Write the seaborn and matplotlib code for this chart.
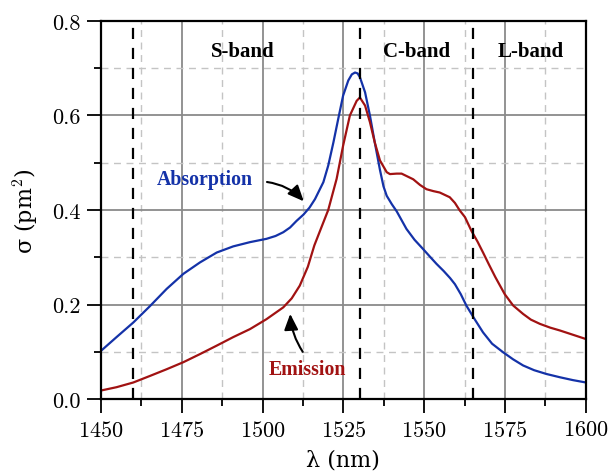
import numpy as np
import pandas as pd
import matplotlib
matplotlib.use("Agg")
import matplotlib.pyplot as plt
from matplotlib.ticker import MultipleLocator, FormatStrFormatter
import seaborn as sns

# Absorption cross-section (pm^2)
abs_wl = [1450, 1454.8, 1460, 1465.2, 1470.3, 1475.5, 1480.6, 1485.8, 1490.9, 1496.1, 1501.2,
          1504, 1506.4, 1508.5, 1510.5, 1512.6, 1514.5, 1516.2, 1518.8, 1520.3, 1521.9, 1523.4,
          1524.9, 1526.5, 1527.6, 1528.6, 1529.4, 1530.1, 1531.7, 1533.2, 1534.7, 1536.3,
          1537.4, 1538.4, 1540, 1541.5, 1544.5, 1547, 1549.7, 1551.8, 1553.8, 1556, 1558,
          1559.5, 1561.3, 1563.1, 1565.5, 1568.2, 1571, 1574.4, 1577.5, 1580.6, 1584, 1587.8,
          1592, 1596, 1600]
abs_val = [0.102, 0.131, 0.162, 0.197, 0.233, 0.265, 0.289, 0.310, 0.323, 0.332, 0.339,
           0.345, 0.353, 0.363, 0.377, 0.390, 0.405, 0.423, 0.459, 0.494, 0.543, 0.593,
           0.642, 0.674, 0.687, 0.691, 0.689, 0.681, 0.649, 0.600, 0.543, 0.485,
           0.450, 0.430, 0.412, 0.397, 0.360, 0.337, 0.317, 0.301, 0.286, 0.271, 0.256,
           0.243, 0.222, 0.197, 0.170, 0.141, 0.117, 0.099, 0.084, 0.071, 0.061, 0.053,
           0.046, 0.040, 0.035]

# Emission cross-section (pm^2)
em_wl = [1450, 1454.8, 1460, 1465.2, 1470.3, 1475.5, 1480.6, 1485.8, 1490.9, 1496.1, 1501.2,
         1506.4, 1509, 1511.5, 1514, 1516, 1518, 1520.3, 1522.9, 1524.9, 1527.0, 1529.1,
         1530.1, 1531.7, 1533.2, 1534.7, 1536.3, 1538.4, 1539.4, 1541.5, 1543, 1544.5,
         1546.6, 1548.7, 1550.7, 1552.8, 1554.8, 1557.9, 1559.5, 1561.0, 1562.6, 1564.6,
         1566.5, 1568.2, 1570, 1572, 1574.9, 1577.5, 1580.6, 1583, 1585.8, 1589, 1592,
         1596, 1600]
em_val = [0.018, 0.025, 0.035, 0.049, 0.063, 0.078, 0.095, 0.113, 0.131, 0.148, 0.169,
          0.194, 0.213, 0.240, 0.280, 0.325, 0.360, 0.400, 0.466, 0.536, 0.600, 0.631,
          0.638, 0.621, 0.586, 0.543, 0.505, 0.480, 0.476, 0.477, 0.477, 0.472,
          0.465, 0.453, 0.444, 0.440, 0.437, 0.427, 0.415, 0.399, 0.385, 0.356,
          0.333, 0.310, 0.285, 0.258, 0.222, 0.198, 0.180, 0.168, 0.159, 0.151, 0.145,
          0.136, 0.127]

band_edges = [1460, 1530, 1565]
band_names = ["S-band", "C-band", "L-band"]
band_label_x = [1494, 1547.7, 1583]

blue = "#1432a8"
red = "#a11212"

df = pd.concat([
    pd.DataFrame({"wl": abs_wl, "sigma": abs_val, "kind": "Absorption"}),
    pd.DataFrame({"wl": em_wl, "sigma": em_val, "kind": "Emission"}),
])

sns.set_theme(style="white")
plt.rcParams["font.family"] = ["cmr10", "DejaVu Serif"]
plt.rcParams["mathtext.fontset"] = "cm"
plt.rcParams["axes.formatter.use_mathtext"] = True
for k in ["text.color", "axes.labelcolor", "xtick.color", "ytick.color"]:
    plt.rcParams[k] = "black"

fig = plt.figure(figsize=(6.16, 4.77), dpi=100)
ax = fig.add_axes([0.164, 0.1614, 0.787, 0.7925])

sns.lineplot(data=df, x="wl", y="sigma", hue="kind", palette={"Absorption": blue, "Emission": red},
             ax=ax, legend=False, linewidth=1.6, sort=True)

ax.set_xlim(1450, 1600)
ax.set_ylim(0, 0.8)
ax.xaxis.set_major_locator(MultipleLocator(25))
ax.xaxis.set_minor_locator(MultipleLocator(12.5))
ax.yaxis.set_major_locator(MultipleLocator(0.2))
ax.yaxis.set_minor_locator(MultipleLocator(0.1))
ax.yaxis.set_major_formatter(FormatStrFormatter("%.1f"))

ax.grid(which="major", color="#8a8a8a", linewidth=1.3, linestyle="-")
ax.grid(which="minor", color="#c4c4c4", linewidth=1.0, linestyle=(0, (5, 4)))
ax.set_axisbelow(True)

for s in ax.spines.values():
    s.set_color("black")
    s.set_linewidth(1.6)

ax.tick_params(which="major", direction="out", length=10, width=1.3, color="black",
               labelsize=16, bottom=True, left=True, pad=5)
ax.tick_params(which="minor", direction="out", length=5, width=1.3, color="black",
               bottom=True, left=True)

for xe in band_edges:
    ax.axvline(xe, color="black", linestyle=(0, (5, 4)), linewidth=1.6, zorder=3)

for name, xl in zip(band_names, band_label_x):
    ax.text(xl, 0.737, name, ha="center", va="center", fontsize=15, fontweight="bold",
            color="black", family=["Liberation Serif"])

ax.text(1482, 0.466, "Absorption", ha="center", va="center", fontsize=14.3, fontweight="bold",
        color=blue, family=["Liberation Serif"])
ax.text(1513.7, 0.064, "Emission", ha="center", va="center", fontsize=14.3, fontweight="bold",
        color=red, family=["Liberation Serif"])

ax.annotate("", xy=(1513.3, 0.414), xytext=(1500.5, 0.46),
            arrowprops=dict(arrowstyle="-|>,head_length=0.8,head_width=0.35", color="black",
                            lw=1.5, connectionstyle="arc3,rad=-0.2"))
ax.annotate("", xy=(1508.5, 0.186), xytext=(1512.9, 0.095),
            arrowprops=dict(arrowstyle="-|>,head_length=0.8,head_width=0.35", color="black",
                            lw=1.5, connectionstyle="arc3,rad=-0.15"))

ax.set_xlabel(r"λ (nm)", fontsize=16, family=["DejaVu Serif"], labelpad=6)
ax.set_ylabel(r"σ (pm$^2$)", fontsize=16, family=["DejaVu Serif"], labelpad=8)

fig.savefig("out.png", dpi=100)
